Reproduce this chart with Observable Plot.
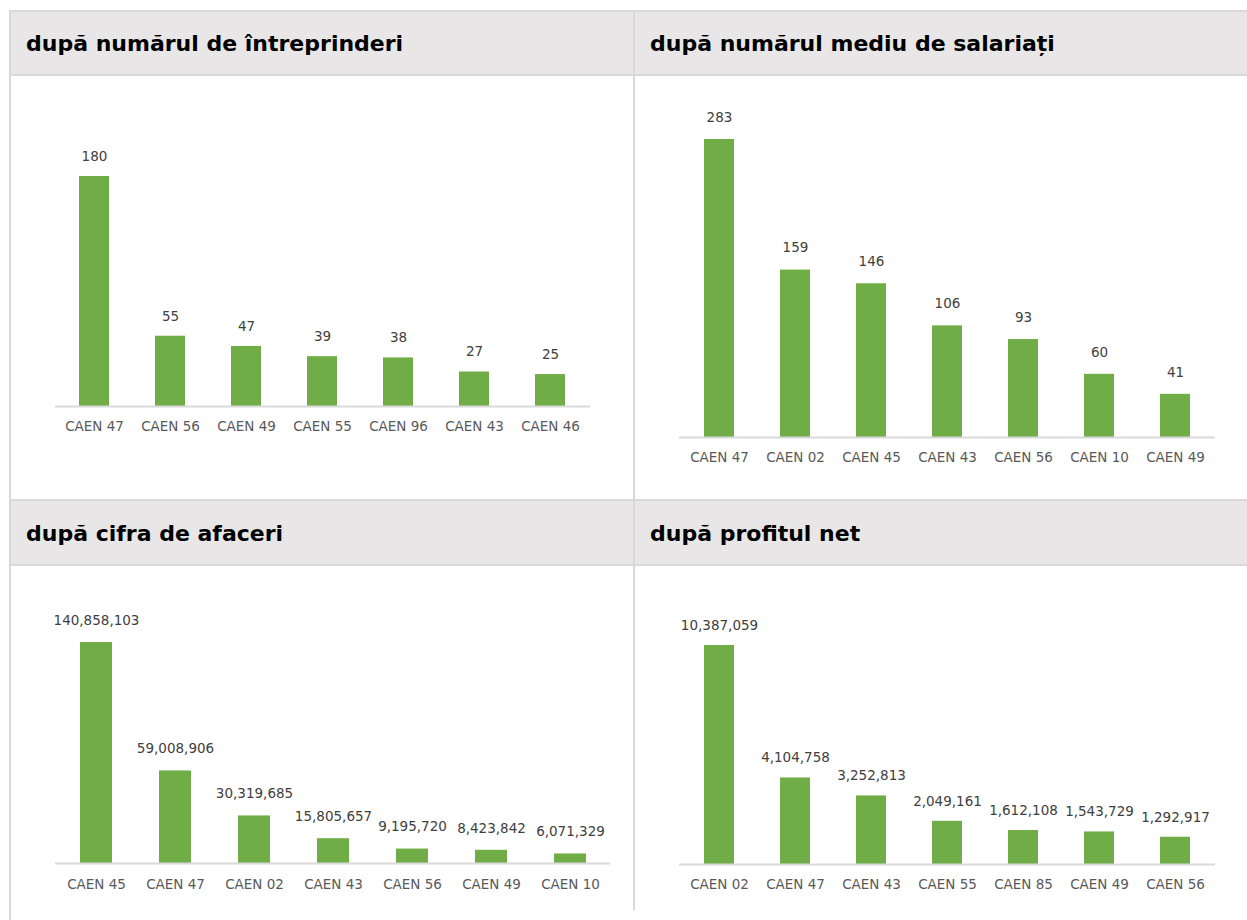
<!DOCTYPE html>
<html>
<head>
<meta charset="utf-8">
<script src="https://cdn.jsdelivr.net/npm/d3@7"></script>
<script src="https://cdn.jsdelivr.net/npm/@observablehq/plot@0.6"></script>
<style>
  html, body { margin: 0; padding: 0; background: #ffffff; }
  body { width: 1247px; height: 920px; position: relative; overflow: hidden; font-family: "DejaVu Sans", sans-serif; }
  .hdr { position: absolute; background: #e8e6e7; box-sizing: border-box; font-weight: bold; font-size: 22px; color: #000; line-height: 66px; }
  .line { position: absolute; background: #d9d9d9; }
</style>
</head>
<body>
<script>
// ---- data ----
const titles = [
  "după numărul de întreprinderi",
  "după numărul mediu de salariați",
  "după cifra de afaceri",
  "după profitul net"
];
const cats1 = ["CAEN 47","CAEN 56","CAEN 49","CAEN 55","CAEN 96","CAEN 43","CAEN 46"];
const vals1 = [180, 55, 47, 39, 38, 27, 25];
const cats2 = ["CAEN 47","CAEN 02","CAEN 45","CAEN 43","CAEN 56","CAEN 10","CAEN 49"];
const vals2 = [283, 159, 146, 106, 93, 60, 41];
const cats3 = ["CAEN 45","CAEN 47","CAEN 02","CAEN 43","CAEN 56","CAEN 49","CAEN 10"];
const vals3 = [140858103, 59008906, 30319685, 15805657, 9195720, 8423842, 6071329];
const cats4 = ["CAEN 02","CAEN 47","CAEN 43","CAEN 55","CAEN 85","CAEN 49","CAEN 56"];
const vals4 = [10387059, 4104758, 3252813, 2049161, 1612108, 1543729, 1292917];

const green = "#70ad47";
const fmt = d3.format(",");

function addDiv(cls, style, text) {
  const d = document.createElement("div");
  d.className = cls;
  Object.assign(d.style, style);
  if (text) d.textContent = text;
  document.body.appendChild(d);
  return d;
}

// headers
addDiv("hdr", {left: "10px", top: "11px", width: "624px", height: "64px", paddingLeft: "16px"}, titles[0]);
addDiv("hdr", {left: "634px", top: "11px", width: "613px", height: "64px", paddingLeft: "16px"}, titles[1]);
addDiv("hdr", {left: "10px", top: "501px", width: "624px", height: "64px", paddingLeft: "16px"}, titles[2]);
addDiv("hdr", {left: "634px", top: "501px", width: "613px", height: "64px", paddingLeft: "16px"}, titles[3]);

// grid lines
addDiv("line", {left: "9px", top: "10px", width: "1238px", height: "2px"});
addDiv("line", {left: "9px", top: "74px", width: "1238px", height: "2px"});
addDiv("line", {left: "9px", top: "499px", width: "1238px", height: "2px"});
addDiv("line", {left: "9px", top: "564px", width: "1238px", height: "2px"});
addDiv("line", {left: "9px", top: "10px", width: "2px", height: "910px"});
addDiv("line", {left: "633px", top: "10px", width: "2px", height: "900px"});

function panel(cats, vals, opts) {
  const data = cats.map((c, i) => ({cat: c, val: vals[i]}));
  const chart = Plot.plot({
    width: opts.width,
    height: opts.height,
    marginLeft: opts.ml, marginRight: opts.mr, marginTop: opts.mt, marginBottom: opts.mb,
    style: {fontFamily: "DejaVu Sans, sans-serif", fontSize: "13.5px", background: "transparent"},
    x: {domain: cats, paddingInner: 0.6, paddingOuter: 0.3, label: null},
    y: {domain: [0, d3.max(vals)], axis: null},
    marks: [
      Plot.barY(data, {x: "cat", y: "val", fill: green}),
      Plot.ruleY([0], {stroke: "#d9d9d9", strokeWidth: 2}),
      Plot.text(data, {x: "cat", y: "val", text: d => fmt(d.val), dy: opts.dy, fill: "#404040", fontSize: 13.5}),
      Plot.axisX({tickSize: 0, tickPadding: opts.tp, label: null, color: "#595959", fontSize: 13.5})
    ]
  });
  chart.style.position = "absolute";
  chart.style.left = opts.left + "px";
  chart.style.top = opts.top + "px";
  document.body.appendChild(chart);
}

panel(cats1, vals1, {left: 10, top: 76, width: 624, height: 424, ml: 45, mr: 44, mt: 100, mb: 94, dy: -20, tp: 15});
panel(cats2, vals2, {left: 634, top: 76, width: 613, height: 424, ml: 45, mr: 32, mt: 63, mb: 63, dy: -22, tp: 15});
panel(cats3, vals3, {left: 10, top: 566, width: 624, height: 354, ml: 45, mr: 24, mt: 76, mb: 57, dy: -22, tp: 16});
panel(cats4, vals4, {left: 634, top: 566, width: 613, height: 354, ml: 45, mr: 32, mt: 79, mb: 56, dy: -20, tp: 15});
</script>
</body>
</html>
